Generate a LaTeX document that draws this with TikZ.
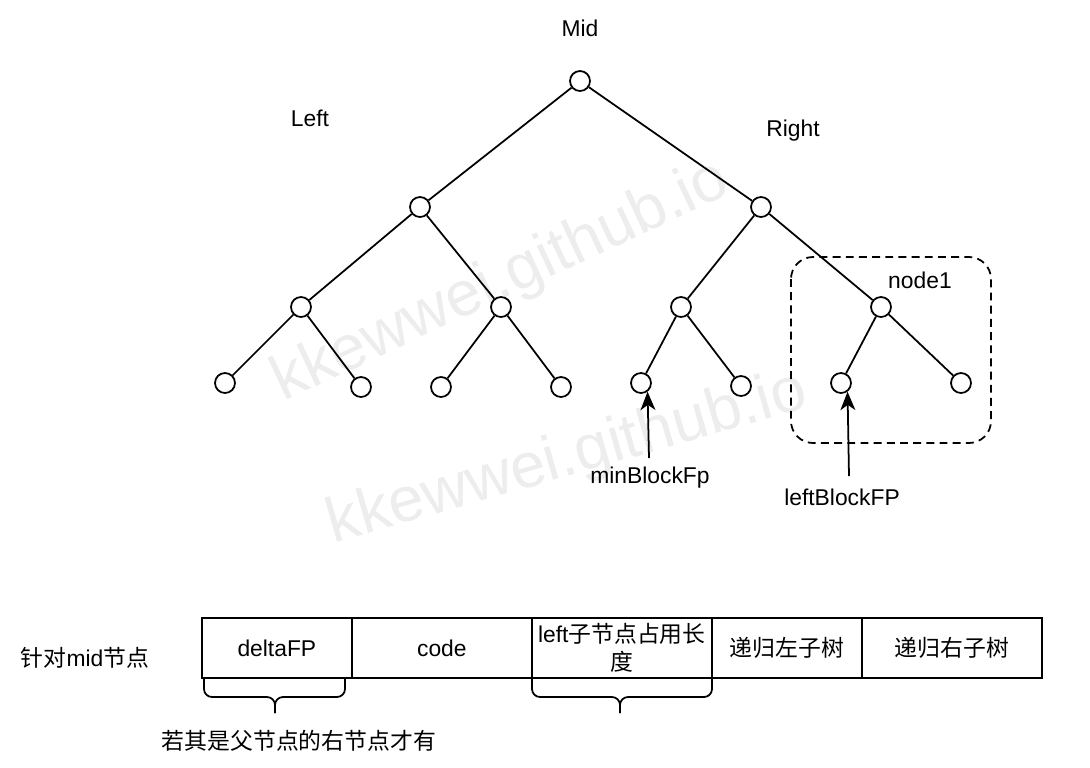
\documentclass[tikz,border=0pt]{standalone}
\usepackage{fontspec}
\setmainfont{Liberation Sans}
\newfontfamily\cjk{Noto Sans CJK SC}
\usetikzlibrary{arrows.meta}
\newcommand\myfs{\fontsize{13pt}{16pt}\selectfont}
\begin{document}
\begin{tikzpicture}[x=0.02cm,y=-0.02cm,
  tn/.style={circle,draw,line width=1pt,minimum size=0.4cm,inner sep=0pt,fill=white},
  edge/.style={line width=1pt},
  lbl/.style={font=\myfs,inner sep=0pt,anchor=base},
  cell/.style={draw,line width=1pt,minimum height=1.2cm,inner sep=0pt,anchor=north west,align=center,font=\myfs},
  ptr/.style={line width=1pt,-{Stealth[length=10.5pt,width=8.5pt,inset=3pt]}},
  wm/.style={text=black!7,font=\fontsize{36pt}{36pt}\selectfont,inner sep=0pt,anchor=base},
  bracepath/.style={line width=1pt,rounded corners=0.16cm},
  box1/.style={draw,dashed,line width=1pt,dash pattern=on 4.5pt off 3pt,rounded corners=0.44cm}
]
\useasboundingbox (0,0) rectangle (1090,768);
% watermarks
\node[wm,rotate=25] (wm1) at (508,297) {kkewwei.github.io};
\node[wm,rotate=16] (wm2) at (572,475) {kkewwei.github.io};

% dashed group
\draw[box1] (791,257) rectangle (991,443);

% tree nodes
\node[tn] (r) at (580,81) {};
\node[tn] (a) at (420,207) {};
\node[tn] (b) at (761,207) {};
\node[tn] (a1) at (301,307) {};
\node[tn] (a2) at (501,307) {};
\node[tn] (b1) at (681,307) {};
\node[tn] (b2) at (881,307) {};
\node[tn] (l1) at (225,383) {};
\node[tn] (l2) at (361,387) {};
\node[tn] (l3) at (441,387) {};
\node[tn] (l4) at (561,387) {};
\node[tn] (l5) at (641,383) {};
\node[tn] (l6) at (741,386) {};
\node[tn] (l7) at (841,383) {};
\node[tn] (l8) at (961,383) {};

\draw[edge] (r) -- (a);
\draw[edge] (r) -- (b);
\draw[edge] (a) -- (a1);
\draw[edge] (a) -- (a2);
\draw[edge] (b) -- (b1);
\draw[edge] (b) -- (b2);
\draw[edge] (a1) -- (l1);
\draw[edge] (a1) -- (l2);
\draw[edge] (a2) -- (l3);
\draw[edge] (a2) -- (l4);
\draw[edge] (b1) -- (l5);
\draw[edge] (b1) -- (l6);
\draw[edge] (b2) -- (l7);
\draw[edge] (b2) -- (l8);

% labels
\node[lbl] (tmid) at (580,36) {Mid};
\node[lbl] (tleft) at (310,126) {Left};
\node[lbl] (tright) at (793,136) {Right};
\node[lbl] (tnode1) at (920,288) {node1};
\node[lbl] (tmin) at (650,483) {minBlockFp};
\node[lbl] (tlb) at (842,505) {leftBlockFP};

% pointers
\coordinate (p1) at (649,458);
\coordinate (p2) at (849,476);
\draw[ptr] (p1) -- (l5.-53);
\draw[ptr] (p2) -- (l7.-53);

% table
\node[lbl] (tfor) at (85,666) {{\cjk 针对}mid{\cjk 节点}};
\node[cell,minimum width=3cm] (c1) at (201,617) {deltaFP};
\node[cell,minimum width=3.6cm] (c2) at (351,617) {code};
\node[cell,minimum width=3.6cm] (c3) at (531,617) {left{\cjk 子节点占用长}\\{\cjk 度}};
\node[cell,minimum width=3cm] (c4) at (711,617) {\cjk 递归左子树};
\node[cell,minimum width=3.6cm] (c5) at (861,617) {\cjk 递归右子树};

% braces
\draw[bracepath] (204,678) -- (204,697) -- (275,697) -- (275,713);
\draw[bracepath] (345,678) -- (345,697) -- (275,697) -- (275,713);
\draw[bracepath] (532,678) -- (532,697) -- (620,697) -- (620,713);
\draw[bracepath] (712,678) -- (712,697) -- (620,697) -- (620,713);

\node[lbl] (tnote) at (299,749) {\cjk 若其是父节点的右节点才有};
\end{tikzpicture}
\end{document}
